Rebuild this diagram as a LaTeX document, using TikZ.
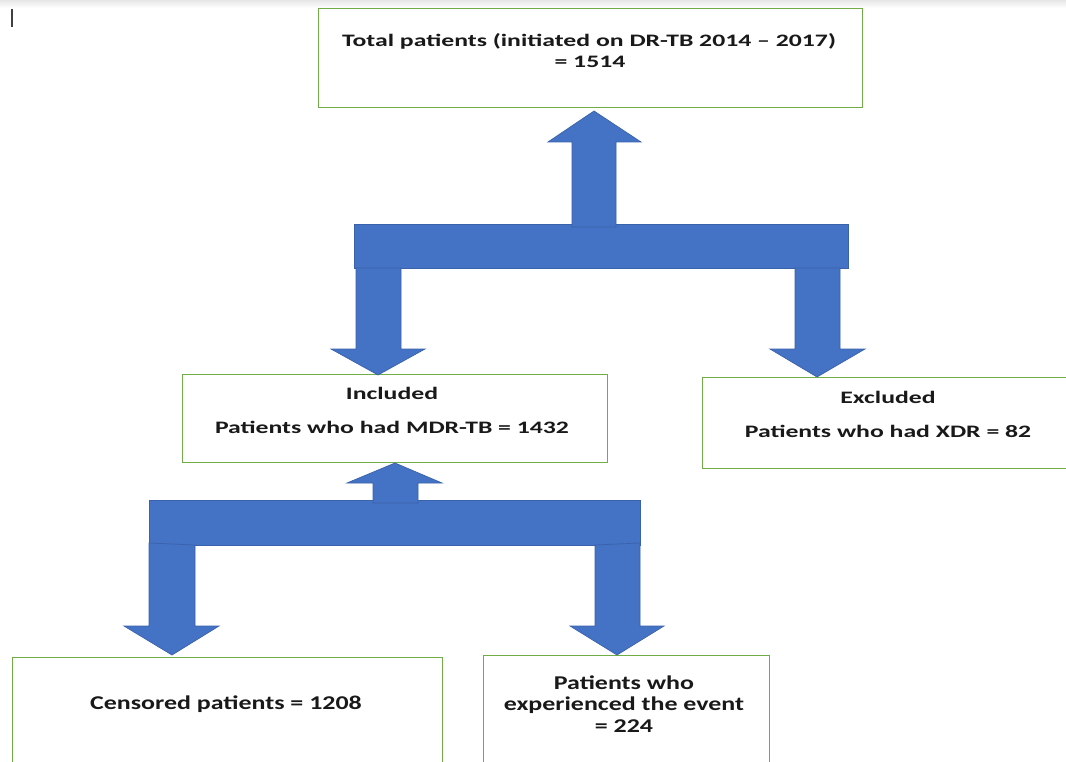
\documentclass[tikz,border=0pt]{standalone}
\usepackage{fontspec}
\newfontfamily\diafont{Carlito}[FakeStretch=1.47]
\newfontfamily\lowfont{Carlito}[FakeStretch=1.33]
\definecolor{boxgreen}{HTML}{70AD47}
\definecolor{arrowblue}{HTML}{4472C4}
\definecolor{arrowedge}{HTML}{3A62AA}
\begin{document}
\begin{tikzpicture}[x=1pt,y=-1pt,
  box/.style={draw=boxgreen, line width=1.3pt, fill=white, anchor=north west, inner sep=0pt},
  blk/.style={fill=arrowblue, draw=arrowedge, line width=0.7pt, line join=miter},
  btxt/.style={font=\diafont\bfseries\fontsize{17.5}{21}\selectfont, anchor=base, inner sep=0pt, text=black!90},
  rtxt/.style={font=\lowfont\bfseries\fontsize{19.5}{21.5}\selectfont, anchor=base, inner sep=0pt, text=black!90}]
\useasboundingbox (0,0) rectangle (1066,762);
\clip (0,0) rectangle (1066,762);
\fill[white] (0,0) rectangle (1066,762);
\shade[top color=black!10, bottom color=white] (0,0) rectangle (1066,8);
\draw[line width=1.5pt, black!75] (12,9) -- (12,27);

% boxes
\node[box, minimum width=544pt, minimum height=99pt] (total) at (318,8) {};
\node[box, minimum width=425pt, minimum height=88pt] (incl) at (182,374) {};
\node[box, minimum width=370pt, minimum height=91pt] (excl) at (702,377) {};
\node[box, minimum width=430pt, minimum height=130pt] (cens) at (12,657) {};
\node[box, minimum width=286pt, minimum height=130pt] (event) at (483,655) {};

% texts
\node[btxt] (t1a) at (589,46.6) {Total patients (initiated on DR-TB 2014 – 2017)};
\node[btxt] (t1b) at (590,67.6) {= 1514};
\node[btxt] (t2a) at (392,399.6) {Included};
\node[btxt] (t2b) at (392,433.6) {Patients who had MDR-TB = 1432};
\node[btxt] (t3a) at (888,403.6) {Excluded};
\node[btxt] (t3b) at (888,437.6) {Patients who had XDR = 82};
\node[rtxt] (t4) at (226,709.3) {Censored patients = 1208};
\node[rtxt] (t5a) at (624,689.3) {Patients who};
\node[rtxt] (t5b) at (624,710.3) {experienced the event};
\node[rtxt] (t5c) at (624,732.3) {= 224};

% first split
\draw[blk] (354,224) rectangle (848,268);
\draw[blk] (572,227) -- (572,142) -- (548,142) -- (594,111) -- (641,142) -- (616,142) -- (616,227) -- cycle;
\draw[blk] (356,268) -- (356,349) -- (331,349) -- (378,375) -- (425,349) -- (401,349) -- (401,268) -- cycle;
\draw[blk] (795,268) -- (795,349) -- (770,349) -- (817,377) -- (865,349) -- (840,349) -- (840,268) -- cycle;

% second split
\draw[blk] (149,500) rectangle (640,545);
\draw[blk] (373,503) -- (373,483) -- (347,483) -- (395,463) -- (442,483) -- (418,483) -- (418,503) -- cycle;
\draw[blk] (149,543) -- (149,626) -- (124,626) -- (172,655) -- (219,626) -- (195,626) -- (195,545) -- cycle;
\draw[blk] (595,545) -- (595,626) -- (570,626) -- (617,655) -- (664,626) -- (640,626) -- (640,543) -- cycle;
\end{tikzpicture}
\end{document}
